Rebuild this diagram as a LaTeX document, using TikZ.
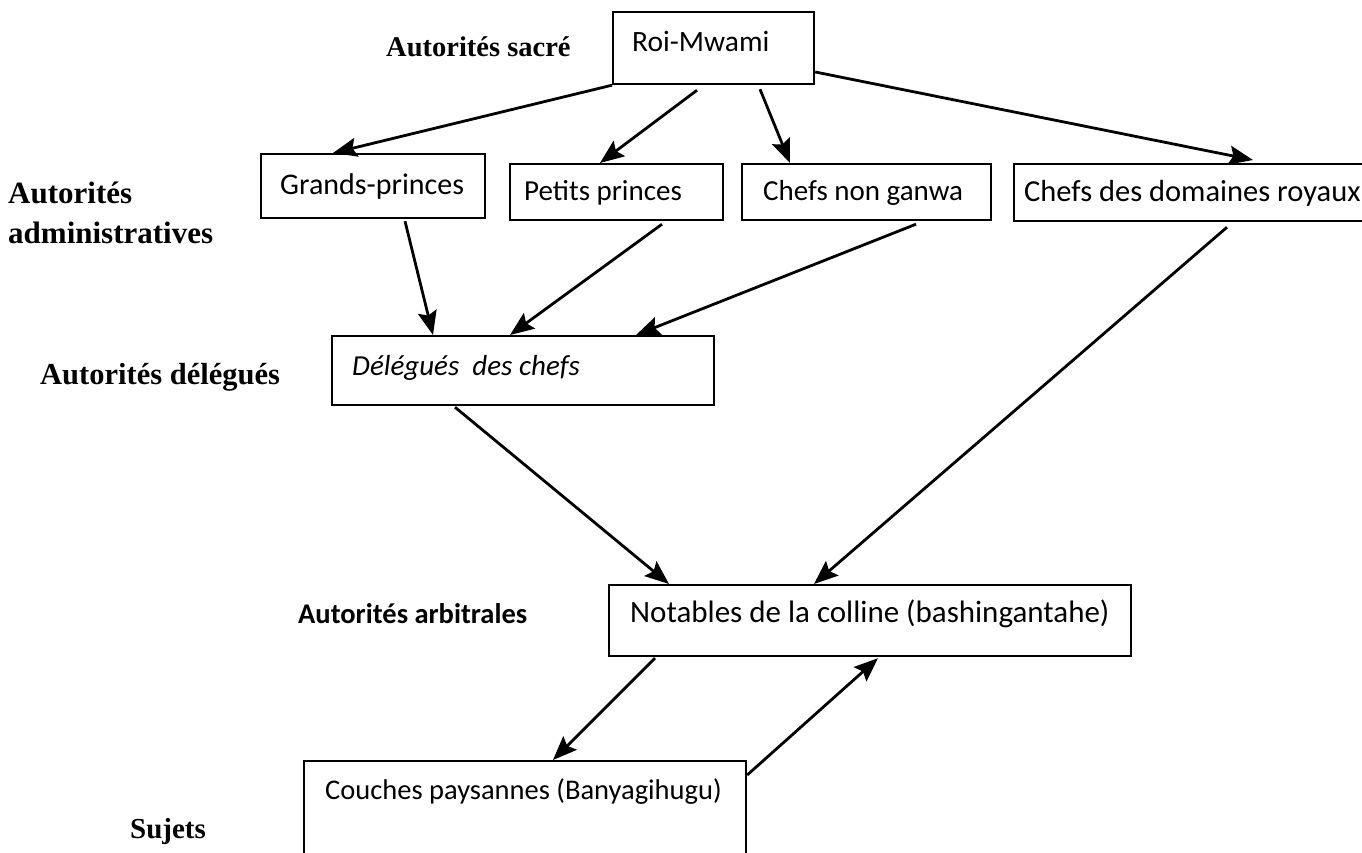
\documentclass[tikz,border=0pt]{standalone}
\usepackage{fontspec}
\setmainfont{Carlito}
\newfontfamily\lserif{Liberation Serif}
\usetikzlibrary{arrows.meta}
\tikzset{
  box/.style={draw=black, line width=2.2pt, fill=white, inner sep=0pt, anchor=north west},
  btxt/.style={anchor=west, inner sep=0pt, font=\fontsize{29}{35}\selectfont},
  lab/.style={anchor=west, inner sep=0pt, font=\lserif\bfseries\fontsize{28}{34}\selectfont, align=left},
  conn/.style={line width=2.8pt, -{Stealth[length=24pt,width=19pt,inset=4pt]}}
}
\begin{document}
\begin{tikzpicture}[x=1pt,y=-1pt]
\clip (0,0) rectangle (1362,853);
\fill[white] (0,0) rectangle (1362,853);
% boxes
\node[box, minimum width=201pt, minimum height=72pt] (roi) at (612,11) {};
\node[box, minimum width=224pt, minimum height=64pt] (gp) at (260,153) {};
\node[box, minimum width=213pt, minimum height=56pt] (pp) at (509,163) {};
\node[box, minimum width=249pt, minimum height=56pt] (cng) at (741,163) {};
\node[box, minimum width=360pt, minimum height=57pt] (cdr) at (1013,163) {};
\node[box, minimum width=382pt, minimum height=69pt] (del) at (331,335) {};
\node[box, minimum width=522pt, minimum height=71pt] (not) at (608,584) {};
\node[box, minimum width=442pt, minimum height=120pt] (cou) at (303,760) {};
% box texts
\node[btxt, font=\fontsize{29.5}{35}\selectfont] (roit) at (632,41) {Roi-Mwami};
\node[btxt, font=\fontsize{30}{36}\selectfont] (gpt) at (280,187) {Grands-princes};
\node[btxt] (ppt) at (524,193) {Petits princes};
\node[btxt] (cngt) at (763,193) {Chefs non ganwa};
\node[btxt, font=\fontsize{30.5}{36}\selectfont] (cdrt) at (1024,193) {Chefs des domaines royaux};
\node[btxt, font=\itshape\fontsize{29}{35}\selectfont] (delt) at (352,368) {Délégués\ \ des chefs};
\node[btxt, font=\fontsize{31}{37}\selectfont] (nott) at (630,614) {Notables de la colline (bashingantahe)};
\node[btxt, font=\fontsize{28.5}{34}\selectfont] (cout) at (325,792) {Couches paysannes (Banyagihugu)};
% side labels
\node[lab, font=\lserif\bfseries\fontsize{28.5}{34}\selectfont] (l1) at (386,47) {Autorités sacré};
\node[lab, font=\lserif\bfseries\fontsize{31}{34}\selectfont, text width=230pt] (l2) at (8,213) {Autorités\\[6pt]administratives};
\node[lab, font=\lserif\bfseries\fontsize{30.5}{34}\selectfont] (l3) at (40,377) {Autorités délégués};
\node[btxt, font=\bfseries\fontsize{28.5}{32}\selectfont] (l4) at (298,614) {Autorités arbitrales};
\node[lab, font=\lserif\bfseries\fontsize{29}{34}\selectfont] (l5) at (130,832) {Sujets};
% connectors
\draw[conn] (roi.south west) -- ([xshift=73pt]gp.north west);
\draw[conn] ([xshift=85pt,yshift=-5pt]roi.south west) -- ([xshift=91pt]pp.north west);
\draw[conn] ([xshift=148pt,yshift=-4pt]roi.south west) -- ([xshift=49pt]cng.north west);
\draw[conn] ([yshift=-61pt]roi.north east) -- ([xshift=240pt,yshift=3pt]cdr.north west);
\draw[conn] ([xshift=145pt,yshift=-2pt]gp.south west) -- ([xshift=102pt]del.north west);
\draw[conn] ([xshift=153pt,yshift=-3pt]pp.south west) -- ([xshift=179pt]del.north west);
\draw[conn] ([xshift=175pt,yshift=-3pt]cng.south west) -- ([xshift=305pt]del.north west);
\draw[conn] ([xshift=124pt,yshift=-1pt]del.south west) -- ([xshift=61pt]not.north west);
\draw[conn] ([xshift=214pt,yshift=-5pt]cdr.south west) -- ([xshift=206pt]not.north west);
\draw[conn] ([xshift=47pt,yshift=-1pt]not.south west) -- ([xshift=250pt]cou.north west);
\draw[conn] ([yshift=-15pt]cou.north east) -- ([xshift=270pt,yshift=-1pt]not.south west);
\end{tikzpicture}
\end{document}
